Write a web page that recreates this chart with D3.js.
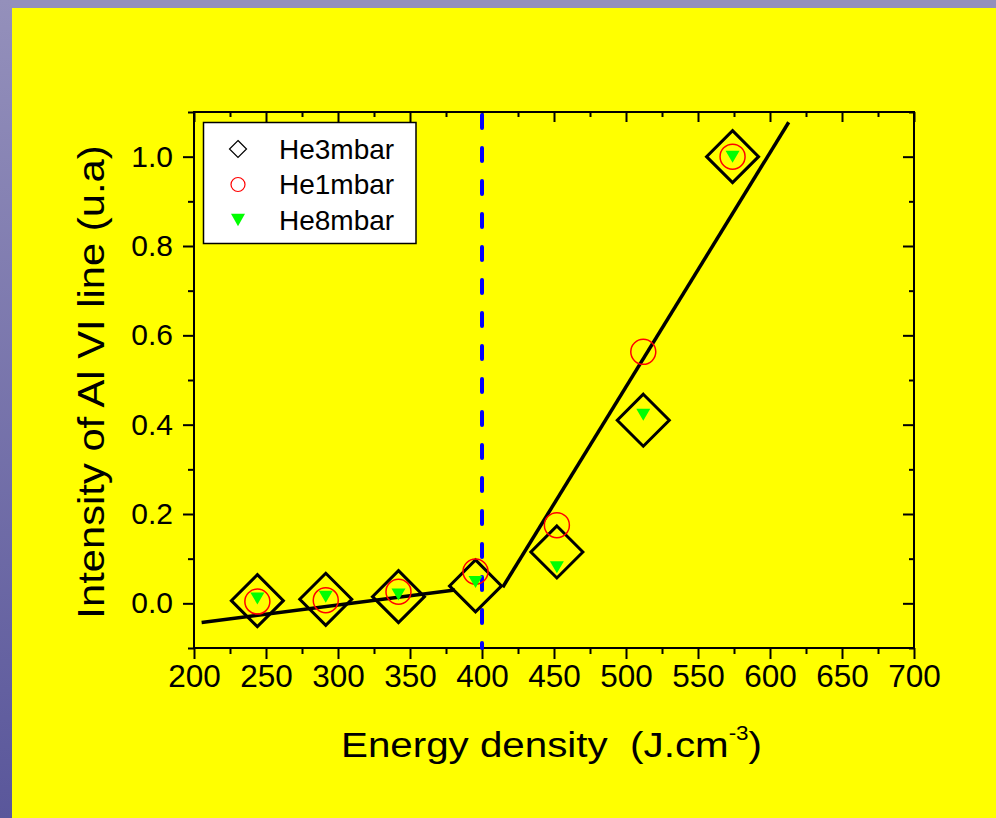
<!DOCTYPE html>
<html>
<head>
<meta charset="utf-8">
<script src="https://cdn.jsdelivr.net/npm/d3@7"></script>
<style>
  html, body { margin: 0; padding: 0; background: #9490bb; }
  svg { display: block; }
  text { font-family: "Liberation Sans", Arial, sans-serif; white-space: pre; }
</style>
</head>
<body>
<svg id="chart" width="996" height="818"></svg>
<script>
// ---- data ----
const energy = [244, 291.5, 342, 395.5, 452, 512, 574];
const he3mbar = [0.006, 0.009, 0.015, 0.039, 0.115, 0.41, 1.0];
const he1mbar = [0.004, 0.007, 0.026, 0.071, 0.175, 0.563, 1.0];
const he8mbar = [0.011, 0.015, 0.020, 0.048, 0.081, 0.422, 1.0];
const fitLow = [[205.3, -0.043], [381.2, 0.030]];
const fitHigh = [[414.4, 0.036], [613, 1.077]];
const thresholdX = 400;
const xTicks = [200, 250, 300, 350, 400, 450, 500, 550, 600, 650, 700];
const yTicks = [0.0, 0.2, 0.4, 0.6, 0.8, 1.0];
const xMinor = [225, 275, 325, 375, 425, 475, 525, 575, 625, 675];
const yMinor = [-0.1, 0.1, 0.3, 0.5, 0.7, 0.9, 1.1];
const seriesNames = ["He3mbar", "He1mbar", "He8mbar"];

// ---- setup ----
const svg = d3.select("#chart");
const W = 996, H = 818;

const defs = svg.append("defs");
const grad = defs.append("linearGradient").attr("id", "leftStrip")
  .attr("x1", 0).attr("y1", 0).attr("x2", 0).attr("y2", 1);
grad.append("stop").attr("offset", "0%").attr("stop-color", "#9490bb");
grad.append("stop").attr("offset", "100%").attr("stop-color", "#5a579b");

svg.append("rect").attr("x", 0).attr("y", 0).attr("width", W).attr("height", H).attr("fill", "#9490bb");
svg.append("rect").attr("x", 0).attr("y", 0).attr("width", 12).attr("height", H).attr("fill", "url(#leftStrip)");
svg.append("rect").attr("x", 12).attr("y", 8).attr("width", W - 12).attr("height", H - 8).attr("fill", "#ffff00");

const L = 194, R = 914, T = 112, B = 648;
const x = d3.scaleLinear().domain([200, 700]).range([L, R]);
const y = d3.scaleLinear().domain([-0.1, 1.1]).range([B, T]);

// ---- axes ----
const axisW = 2;
function styleAxis(g) {
  g.select(".domain").remove();
  g.selectAll(".tick line").attr("stroke", "#000").attr("stroke-width", axisW);
}
svg.append("g").attr("transform", `translate(0,${B})`)
  .call(d3.axisBottom(x).tickValues(xTicks).tickSize(11).tickPadding(6).tickFormat(d3.format("d")))
  .call(styleAxis)
  .call(g => g.selectAll("text").attr("font-size", 31.5).attr("fill", "#000").attr("dy", "0.71em"));
svg.append("g").attr("transform", `translate(0,${B})`)
  .call(d3.axisBottom(x).tickValues(xMinor).tickSize(6).tickFormat(""))
  .call(styleAxis);
svg.append("g").attr("transform", `translate(0,${T})`)
  .call(d3.axisBottom(x).tickValues(xTicks).tickSize(10).tickFormat(""))
  .call(styleAxis);
svg.append("g").attr("transform", `translate(0,${T})`)
  .call(d3.axisBottom(x).tickValues(xMinor).tickSize(5).tickFormat(""))
  .call(styleAxis);
svg.append("g").attr("transform", `translate(${L},0)`)
  .call(d3.axisLeft(y).tickValues(yTicks).tickSize(11).tickPadding(10).tickFormat(d3.format(".1f")))
  .call(styleAxis)
  .call(g => g.selectAll("text").attr("font-size", 30).attr("fill", "#000"));
svg.append("g").attr("transform", `translate(${L},0)`)
  .call(d3.axisLeft(y).tickValues(yMinor).tickSize(6).tickFormat(""))
  .call(styleAxis);
svg.append("g").attr("transform", `translate(${R},0)`)
  .call(d3.axisLeft(y).tickValues(yTicks).tickSize(11).tickFormat(""))
  .call(styleAxis);
svg.append("g").attr("transform", `translate(${R},0)`)
  .call(d3.axisLeft(y).tickValues(yMinor).tickSize(5).tickFormat(""))
  .call(styleAxis);

svg.append("rect").attr("x", L).attr("y", T).attr("width", R - L).attr("height", B - T)
  .attr("fill", "none").attr("stroke", "#000").attr("stroke-width", axisW);

// ---- fit lines ----
const line = d3.line().x(d => x(d[0])).y(d => y(d[1]));
[fitLow, fitHigh].forEach(seg => {
  svg.append("path").attr("d", line(seg)).attr("fill", "none")
    .attr("stroke", "#000").attr("stroke-width", 3.5);
});

// ---- threshold dashed line ----
svg.append("line")
  .attr("x1", x(thresholdX)).attr("x2", x(thresholdX))
  .attr("y1", y(1.1) + 3).attr("y2", y(-0.1))
  .attr("stroke", "#0000ff").attr("stroke-width", 4)
  .attr("stroke-linecap", "round").attr("stroke-dasharray", "13,20");

// ---- markers ----
const diamond = s => `M0,${-s}L${s},0L0,${s}L${-s},0Z`;
const triDown = (w, h) => `M${-w / 2},${-h / 2}L${w / 2},${-h / 2}L0,${h / 2}Z`;

const pts = energy.map((e, i) => ({ e, a: he3mbar[i], b: he1mbar[i], c: he8mbar[i] }));

svg.append("g").selectAll("path").data(pts).join("path")
  .attr("transform", d => `translate(${x(d.e)},${y(d.a)})`)
  .attr("d", diamond(26)).attr("fill", "none").attr("stroke", "#000").attr("stroke-width", 3);

svg.append("g").selectAll("circle").data(pts).join("circle")
  .attr("cx", d => x(d.e)).attr("cy", d => y(d.b)).attr("r", 12.5)
  .attr("fill", "none").attr("stroke", "#ff0000").attr("stroke-width", 1.5);

svg.append("g").selectAll("path").data(pts).join("path")
  .attr("transform", d => `translate(${x(d.e)},${y(d.c)})`)
  .attr("d", triDown(14, 12)).attr("fill", "#00ff00");

// ---- legend ----
const lg = svg.append("g");
lg.append("rect").attr("x", 203.5).attr("y", 122.5).attr("width", 212.5).attr("height", 121)
  .attr("fill", "#fff").attr("stroke", "#000").attr("stroke-width", 1.5);
const rowY = [149, 184.5, 220];
const symX = 238;
lg.append("path").attr("transform", `translate(${symX},${rowY[0]})`)
  .attr("d", diamond(8.5)).attr("fill", "none").attr("stroke", "#000").attr("stroke-width", 1.2);
lg.append("circle").attr("cx", symX).attr("cy", rowY[1]).attr("r", 7)
  .attr("fill", "none").attr("stroke", "#ff0000").attr("stroke-width", 1.2);
lg.append("path").attr("transform", `translate(${symX},${rowY[2]})`)
  .attr("d", triDown(14, 12.5)).attr("fill", "#00ff00");
seriesNames.forEach((n, i) => {
  lg.append("text").attr("x", 279).attr("y", rowY[i] + 9.5)
    .attr("font-size", 28).attr("fill", "#000").text(n);
});

// ---- axis titles ----
const xt = svg.append("text").attr("font-size", 36).attr("fill", "#000")
  .attr("xml:space", "preserve")
  .attr("transform", "translate(341,757) scale(1.12,1)");
xt.append("tspan").text("Energy density  (J.cm");
xt.append("tspan").attr("font-size", 20).attr("dy", -17).text("-3");
xt.append("tspan").attr("dy", 17).text(")");

svg.append("text").attr("font-size", 36).attr("fill", "#000")
  .attr("text-anchor", "middle")
  .attr("transform", "translate(104,382) rotate(-90) scale(1.16,1)")
  .text("Intensity of Al VI line (u.a)");
</script>
</body>
</html>
